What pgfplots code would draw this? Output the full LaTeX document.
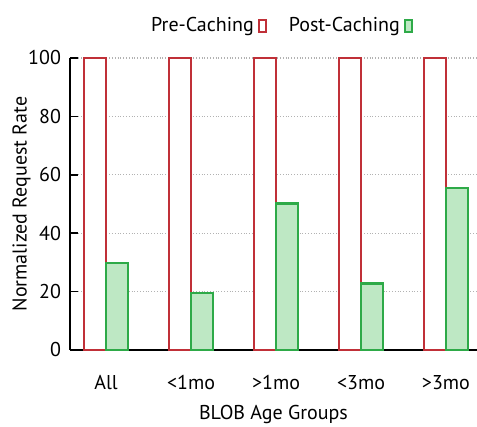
\documentclass[border=0pt]{standalone}
\usepackage{pgfplots}
\pgfplotsset{compat=1.18}
\usepackage{fontspec}
\setmainfont{PT Sans}
\definecolor{prered}{RGB}{192,48,56}
\definecolor{postgreen}{RGB}{46,170,72}
\definecolor{postfill}{RGB}{190,232,196}
\begin{document}
\begin{tikzpicture}
\begin{axis}[
  name=ax, at={(0,0)}, anchor=south west,
  scale only axis, width=203.5pt, height=146pt,
  xmin=-0.424, xmax=4.365, ymin=0, ymax=100,
  axis lines=left, axis line style={-, black, line width=1pt},
  ybar=0pt, bar width=11pt,
  xtick={0,1,2,3,4}, xticklabels={All,{<1mo},{>1mo},{<3mo},{>3mo}},
  x tick style={draw=none},
  ytick={0,20,40,60,80,100},
  y tick style={black, line width=0.8pt}, tick align=inside, major tick length=4pt,
  ymajorgrids, grid style={densely dotted, gray!60, line width=0.6pt},
  tick label style={font=\fontsize{10}{12}\selectfont},
  /pgf/number format/assume math mode=true,
  yticklabel style={xshift=-1pt},
  xticklabel style={yshift=-9pt},
  xlabel={BLOB Age Groups}, ylabel={Normalized Request Rate},
  label style={font=\fontsize{10}{12}\selectfont},
  xlabel style={yshift=-1pt},
  ylabel style={yshift=-8pt},
  legend columns=2,
  legend plot pos=right,
  legend style={draw=none, fill=none, at={(0.516,1.109)}, anchor=center,
    font=\fontsize{10}{12}\selectfont,
    /tikz/every even column/.append style={column sep=9pt}},
  legend image code/.code={\draw[#1, line width=1pt] (0pt,-3pt) rectangle (3.5pt,3pt);},
  clip=false,
]
\addplot[draw=prered, fill=white, line width=1.1pt] coordinates {(0,100) (1,100) (2,100) (3,100) (4,100)};
\addlegendentry{Pre-Caching}
\addplot[draw=postgreen, fill=postfill, line width=1.1pt] coordinates {(0,29.8) (1,19.6) (2,50.2) (3,22.8) (4,55.6)};
\addlegendentry{Post-Caching}
\end{axis}
\pgfresetboundingbox
\path (-35pt,-38.5pt) rectangle (203.5pt,175pt);
\end{tikzpicture}
\end{document}
